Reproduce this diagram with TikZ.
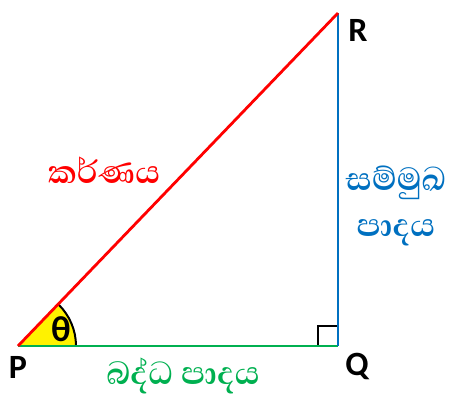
\documentclass[tikz,border=0pt]{standalone}
\usepackage{fontspec}
\setmainfont{Carlito}
\newfontfamily\sinhala[Script=Sinhala]{Abhaya Libre}
\usetikzlibrary{positioning}
\definecolor{hypred}{RGB}{255,0,0}
\definecolor{oppblue}{RGB}{0,112,192}
\definecolor{adjgreen}{RGB}{0,176,80}

\begin{document}
\begin{tikzpicture}[
  x=1pt, y=1pt,
  side/.style={line width=2.8pt},
  vlab/.style={font=\fontsize{34}{36}\selectfont\bfseries, text=black},
  slab/.style={font=\sinhala\fontsize{41}{45}\selectfont\bfseries, align=center, inner sep=0pt}
]
\useasboundingbox (0,0) rectangle (451,396);

% vertices
\coordinate (P) at (18,50);
\coordinate (Q) at (338,50);
\coordinate (R) at (338,383);

% angle at P
\fill[yellow] (P) -- (76,50) arc[start angle=0, end angle=46.1, radius=58] -- cycle;
\draw[line width=2pt] (76,50) arc[start angle=0, end angle=46.1, radius=58];
\node[font=\fontsize{36}{38}\selectfont\bfseries] (theta) at (61,67) {θ};

% right angle at Q
\draw[line width=1.3pt] (318,50) |- (338,70);

% sides
\draw[side, adjgreen] (P) -- (Q);
\draw[side, oppblue] (Q) -- (R);
\draw[side, hypred] (P) -- (R);

% vertex names
\node[vlab] (pname) at (18,29) {P};
\node[vlab] (qname) at (357,30) {Q};
\node[vlab] (rname) at (358,366) {R};

% side names
\node[slab, text=hypred] (hyp) at (104,226) {කර්ණය};
\node[slab, text=oppblue] (opp) at (396,190) {සම්මුඛ\\[1pt]පාදය};
\node[slab, text=adjgreen] (adj) at (183,20) {බද්ධ පාදය};

\end{tikzpicture}
\end{document}
